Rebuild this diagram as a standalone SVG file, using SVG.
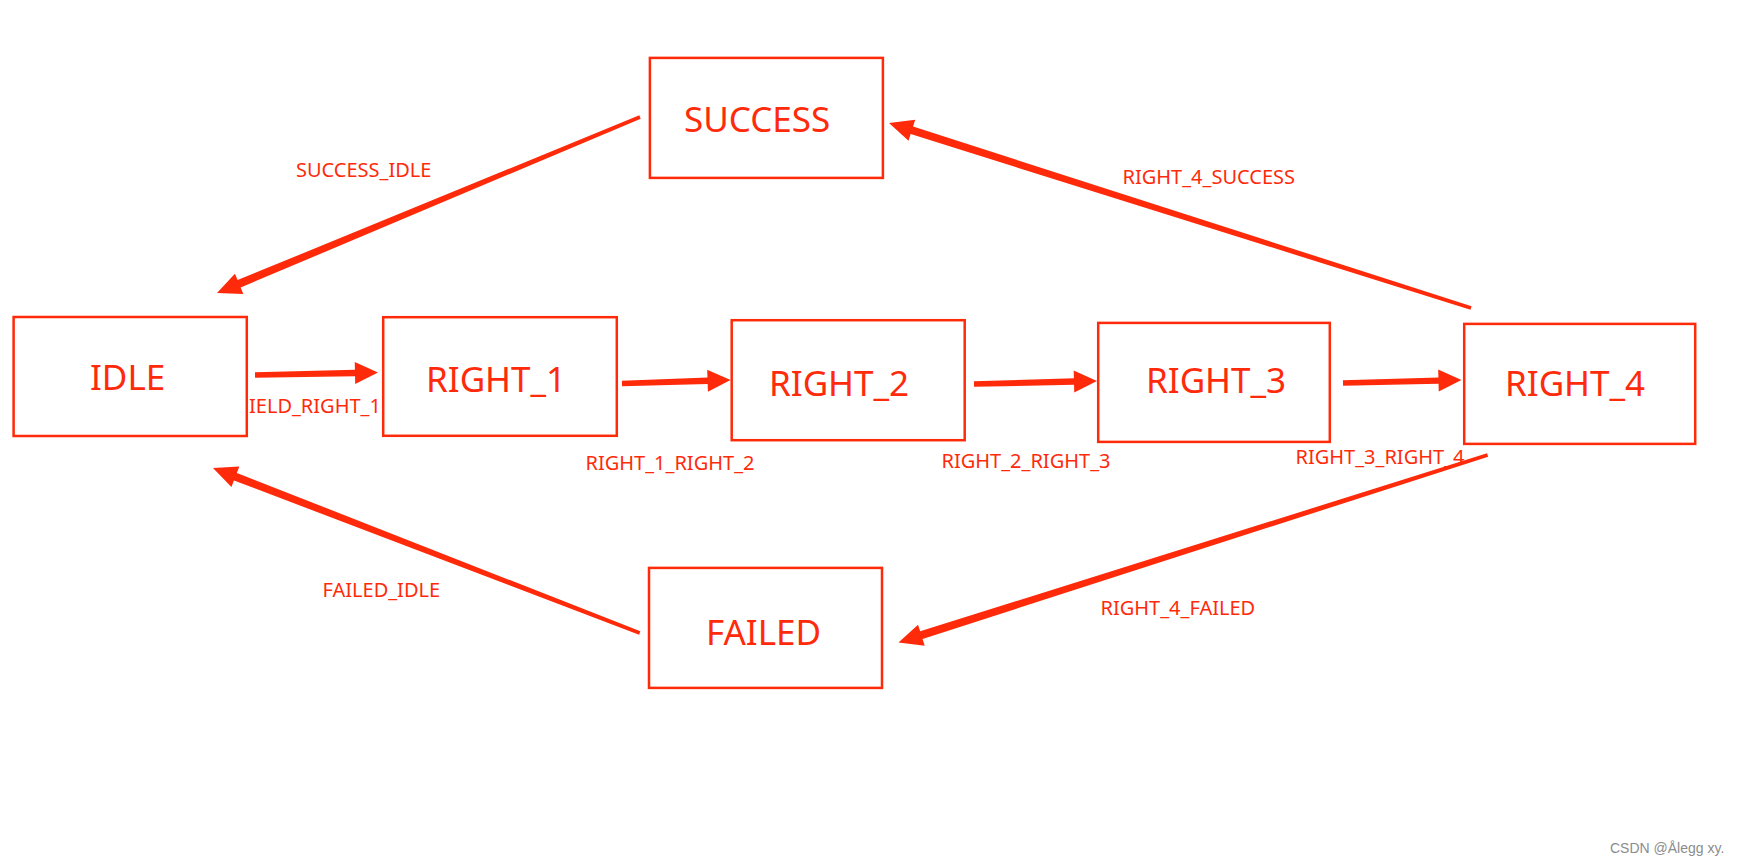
<svg xmlns="http://www.w3.org/2000/svg" width="1737" height="865" viewBox="0 0 1737 865">
<style>
.box{fill:#fff;stroke:#ff2a0a;stroke-width:2.5}
.big{font-family:"Noto Sans","Open Sans",sans-serif;font-size:35px;fill:#ff2a0a}
.lbl{font-family:"Noto Sans","Open Sans",sans-serif;font-size:20px;fill:#ff2a0a}
.arr{fill:#ff2a0a}
.wm{font-family:"Liberation Sans",Arial,sans-serif;font-size:14px;fill:#8c8c8c}
</style>
<rect width="1737" height="865" fill="#fff"/>
<g id="labels">
<text class="lbl" x="249" y="413">IELD_RIGHT_1</text>
<text class="lbl" x="585.5" y="470">RIGHT_1_RIGHT_2</text>
<text class="lbl" x="941.5" y="468">RIGHT_2_RIGHT_3</text>
<text class="lbl" x="1295.5" y="464">RIGHT_3_RIGHT_4</text>
<text class="lbl" x="1100.5" y="615">RIGHT_4_FAILED</text>
<text class="lbl" x="296" y="177">SUCCESS_IDLE</text>
<text class="lbl" x="1122.5" y="184">RIGHT_4_SUCCESS</text>
<text class="lbl" x="322.5" y="597">FAILED_IDLE</text>
</g>
<g id="connectors">
<g transform="translate(255,375) rotate(-1.16)"><polygon class="arr" points="0,-2.8 100,-3.2 100,-11 123,0 100,11 100,3.2 0,2.8"/></g>
<g transform="translate(622,383.5) rotate(-1.85)"><polygon class="arr" points="0,-2.8 85.6,-3.2 85.6,-11 108.6,0 85.6,11 85.6,3.2 0,2.8"/></g>
<g transform="translate(974,384) rotate(-1.4)"><polygon class="arr" points="0,-2.8 100,-3.2 100,-11 123,0 100,11 100,3.2 0,2.8"/></g>
<g transform="translate(1343,383) rotate(-1.45)"><polygon class="arr" points="0,-2.8 95.5,-3.2 95.5,-11 118.5,0 95.5,11 95.5,3.2 0,2.8"/></g>
<g transform="translate(640,117) rotate(157.41)"><polygon class="arr" points="0,-1.8 434.2,-4 434.2,-11 458.2,0 434.2,11 434.2,4 0,1.8"/></g>
<g transform="translate(1471,308) rotate(-162.37)"><polygon class="arr" points="0,-1.8 586.7,-4 586.7,-11 610.7,0 586.7,11 586.7,4 0,1.8"/></g>
<g transform="translate(1487.6,455) rotate(162.35)"><polygon class="arr" points="0,-1.8 594.2,-4 594.2,-11 618.2,0 594.2,11 594.2,4 0,1.8"/></g>
<g transform="translate(639.7,633) rotate(-158.86)"><polygon class="arr" points="0,-1.8 433.5,-4 433.5,-11 457.5,0 433.5,11 433.5,4 0,1.8"/></g>
</g>
<g id="IDLE"><rect class="box" x="13.6" y="317" width="233.2" height="119"/><text class="big" x="90" y="390">IDLE</text></g>
<g id="RIGHT_1"><rect class="box" x="383.2" y="317.2" width="233.6" height="118.6"/><text class="big" x="426" y="392">RIGHT_1</text></g>
<g id="RIGHT_2"><rect class="box" x="731.7" y="320.2" width="233" height="120"/><text class="big" x="769" y="396">RIGHT_2</text></g>
<g id="RIGHT_3"><rect class="box" x="1098.2" y="322.9" width="231.6" height="119"/><text class="big" x="1146" y="393">RIGHT_3</text></g>
<g id="RIGHT_4"><rect class="box" x="1464.2" y="323.9" width="231" height="120"/><text class="big" x="1505" y="396">RIGHT_4</text></g>
<g id="SUCCESS"><rect class="box" x="649.9" y="57.9" width="233" height="120"/><text class="big" x="684" y="132">SUCCESS</text></g>
<g id="FAILED"><rect class="box" x="649" y="567.9" width="233" height="120"/><text class="big" x="706" y="645">FAILED</text></g>
<text class="wm" x="1610" y="853">CSDN @Ålegg xy.</text>
</svg>
